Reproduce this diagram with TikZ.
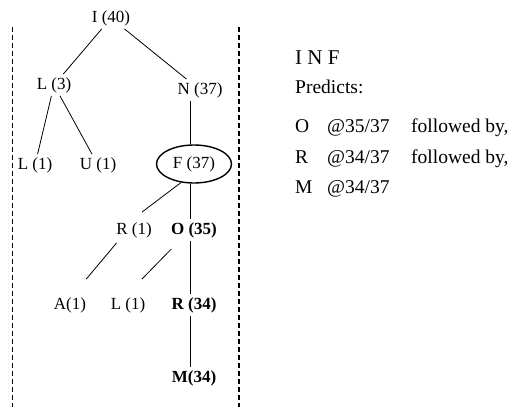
\documentclass[tikz,border=0pt]{standalone}
\usepackage{fontspec}
\setmainfont{Liberation Serif}
\usetikzlibrary{shapes.geometric}

\begin{document}
\begin{tikzpicture}[
  x=1pt, y=-1pt,
  lbl/.style={font=\fontsize{17}{20}\selectfont, inner sep=3pt},
  blbl/.style={lbl, font=\fontsize{17}{20}\selectfont\bfseries},
  edge/.style={line width=0.8pt},
  divider/.style={line width=1.1pt, dash pattern=on 5pt off 3pt},
  txt/.style={font=\fontsize{19.5}{22}\selectfont, anchor=base west, inner sep=0pt}
]
\useasboundingbox (0,0) rectangle (511,407);

% tree
\node[lbl] (root) at (111,18) {I (40)};
\node[lbl] (l3) at (54,85) {L (3)};
\node[lbl] (n37) at (200,90) {N (37)};
\node[lbl] (l1a) at (35,165) {L (1)};
\node[lbl] (u1) at (98,165) {U (1)};
\node[lbl, ellipse, draw, line width=1.4pt, minimum width=75pt,
      minimum height=38pt, inner sep=0pt] (f37) at (194,164) {F (37)};
\node[lbl] (r1) at (134,230) {R (1)};
\node[blbl] (o35) at (194,230) {O (35)};
\node[lbl] (a1) at (70,305) {A(1)};
\node[lbl] (l1b) at (128,305) {L (1)};
\node[blbl] (r34) at (194,305) {R (34)};
\node[blbl] (m34) at (194,378) {M(34)};

\draw[edge] (root) -- (l3);
\draw[edge] (root) -- (n37);
\draw[edge] (l3) -- (l1a);
\draw[edge] (l3) -- (u1);
\draw[edge] ([xshift=-10pt]n37.south) -- ([xshift=-4pt]f37.north);
\draw[edge] (f37.-125) -- ([xshift=8pt,yshift=7pt]r1.north);
\draw[edge] ([xshift=-4pt]f37.south) -- ([xshift=-4pt]o35.north);
\draw[edge] ([xshift=3.5pt,yshift=-2pt]r1.south west) -- ([xshift=-3pt,yshift=15pt]a1.north east);
\draw[edge] ([xshift=3.5pt,yshift=-8pt]o35.south west) -- ([xshift=-6.5pt,yshift=15pt]l1b.north east);
\draw[edge] ([xshift=-4pt]o35.south) -- ([xshift=-4pt]r34.north);
\draw[edge] ([xshift=-4pt]r34.south) -- ([xshift=-4pt]m34.north);

% dividers
\draw[divider] (12.5,27) -- (12.5,407);
\draw[divider] (239,27) -- (239,407);

% prediction text
\node[txt, font=\fontsize{21}{24}\selectfont] (inf) at (295,64) {I N F};
\node[txt] (predicts) at (295,93) {Predicts:};
\node[txt] (po) at (295,132) {O};
\node[txt] (pr) at (295,163) {R};
\node[txt] (pm) at (295,193) {M};
\node[txt] (po2) at (327,132) {@35/37};
\node[txt] (pr2) at (327,163) {@34/37};
\node[txt] (pm2) at (327,193) {@34/37};
\node[txt] (po3) at (411,132) {followed by,};
\node[txt] (pr3) at (411,163) {followed by,};
\end{tikzpicture}
\end{document}
